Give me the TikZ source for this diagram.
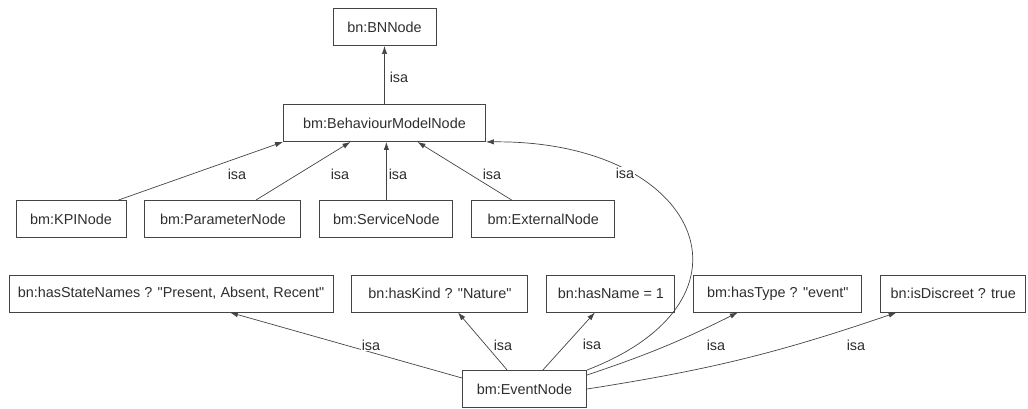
\documentclass[tikz,border=0pt]{standalone}
\usepackage{fontspec}
\setmainfont{Liberation Sans}[Ligatures=TeXOff]
\usetikzlibrary{arrows.meta,positioning}
\definecolor{edge}{HTML}{444444}
\definecolor{ink}{HTML}{2E2E2E}

\begin{document}
\begin{tikzpicture}[x=0.03cm,y=-0.03cm,node distance=0.54cm,
  every node/.style={font=\fontsize{12.3}{14}\selectfont,text=ink},
  s/.style={draw=edge,line width=0.8pt,minimum height=1.11cm,inner sep=1pt},
  a/.style={-{Latex[length=2.4mm,width=1.6mm]},draw=edge,line width=0.6pt},
  lb/.style={fill=white,inner sep=1pt}]
  \useasboundingbox (0,0) rectangle (1028,408);
  % top of the hierarchy
  \node[s,minimum width=3.09cm] (bn) at (384.5,27) {bn:BNNode};
  \node[s,minimum width=6.06cm,below=1.74cm of bn] (bmn) {bm:BehaviourModelNode};
  % subclasses
  \node[s,minimum width=3.30cm] (kpi) at (71,219) {bm:KPINode};
  \node[s,minimum width=4.68cm,right=of kpi] (par) {bm:ParameterNode};
  \node[s,minimum width=3.99cm,right=of par] (svc) {bm:ServiceNode};
  \node[s,minimum width=4.29cm,right=of svc] (ext) {bm:ExternalNode};
  % properties
  \node[s,minimum width=9.72cm] (stn) at (171,293.5) {bn:hasStateNames ? "Present, Absent, Recent"};
  \node[s,minimum width=5.28cm,right=of stn] (knd) {bn:hasKind ? "Nature"};
  \node[s,minimum width=3.84cm,right=of knd] (nam) {bn:hasName = 1};
  \node[s,minimum width=5.04cm,right=of nam] (typ) {bm:hasType ? "event"};
  \node[s,minimum width=4.35cm,right=of typ] (dis) {bn:isDiscreet ? true};
  \node[s,minimum width=3.72cm] (evt) at (524.5,389) {bm:EventNode};

  \draw[a] (bmn) -- (bn);
  \draw[a] ([xshift=-0.24cm]kpi.north east) -- (bmn.south west);
  \draw[a] ([xshift=0.99cm]par.north) -- ([xshift=-1.02cm]bmn.south);
  \draw[a] (svc.north) -- (svc.north |- bmn.south);
  \draw[a] ([xshift=-0.95cm]ext.north) -- ([xshift=0.99cm]bmn.south);
  \draw[a] (evt.north east) .. controls +(184,-71) and +(213,-2) .. (bmn.south east);
  \draw[a] ([yshift=0.33cm]evt.west) -- ([xshift=1.77cm]stn.south);
  \draw[a] ([xshift=-0.52cm]evt.north) -- ([xshift=0.54cm]knd.south);
  \draw[a] ([xshift=0.55cm]evt.north) -- ([xshift=-0.48cm]nam.south);
  \draw[a] ([yshift=0.42cm]evt.east) to[bend right=4] ([xshift=-1.2cm]typ.south);
  \draw[a] (evt.east) to[bend right=5] ([xshift=-1.7cm]dis.south);

  % isa labels
  \node[lb] (i0) at (399,77) {isa};
  \node[lb] (i1) at (237,174) {isa};
  \node[lb] (i2) at (340,174) {isa};
  \node[lb] (i3) at (398,174) {isa};
  \node[lb] (i4) at (492,174) {isa};
  \node[lb] (i5) at (625,173) {isa};
  \node[lb] (i6) at (371,345) {isa};
  \node[lb] (i7) at (503,345) {isa};
  \node[lb] (i8) at (592,344) {isa};
  \node[lb] (i9) at (716,345) {isa};
  \node[lb] (i10) at (856,345) {isa};
\end{tikzpicture}
\end{document}
